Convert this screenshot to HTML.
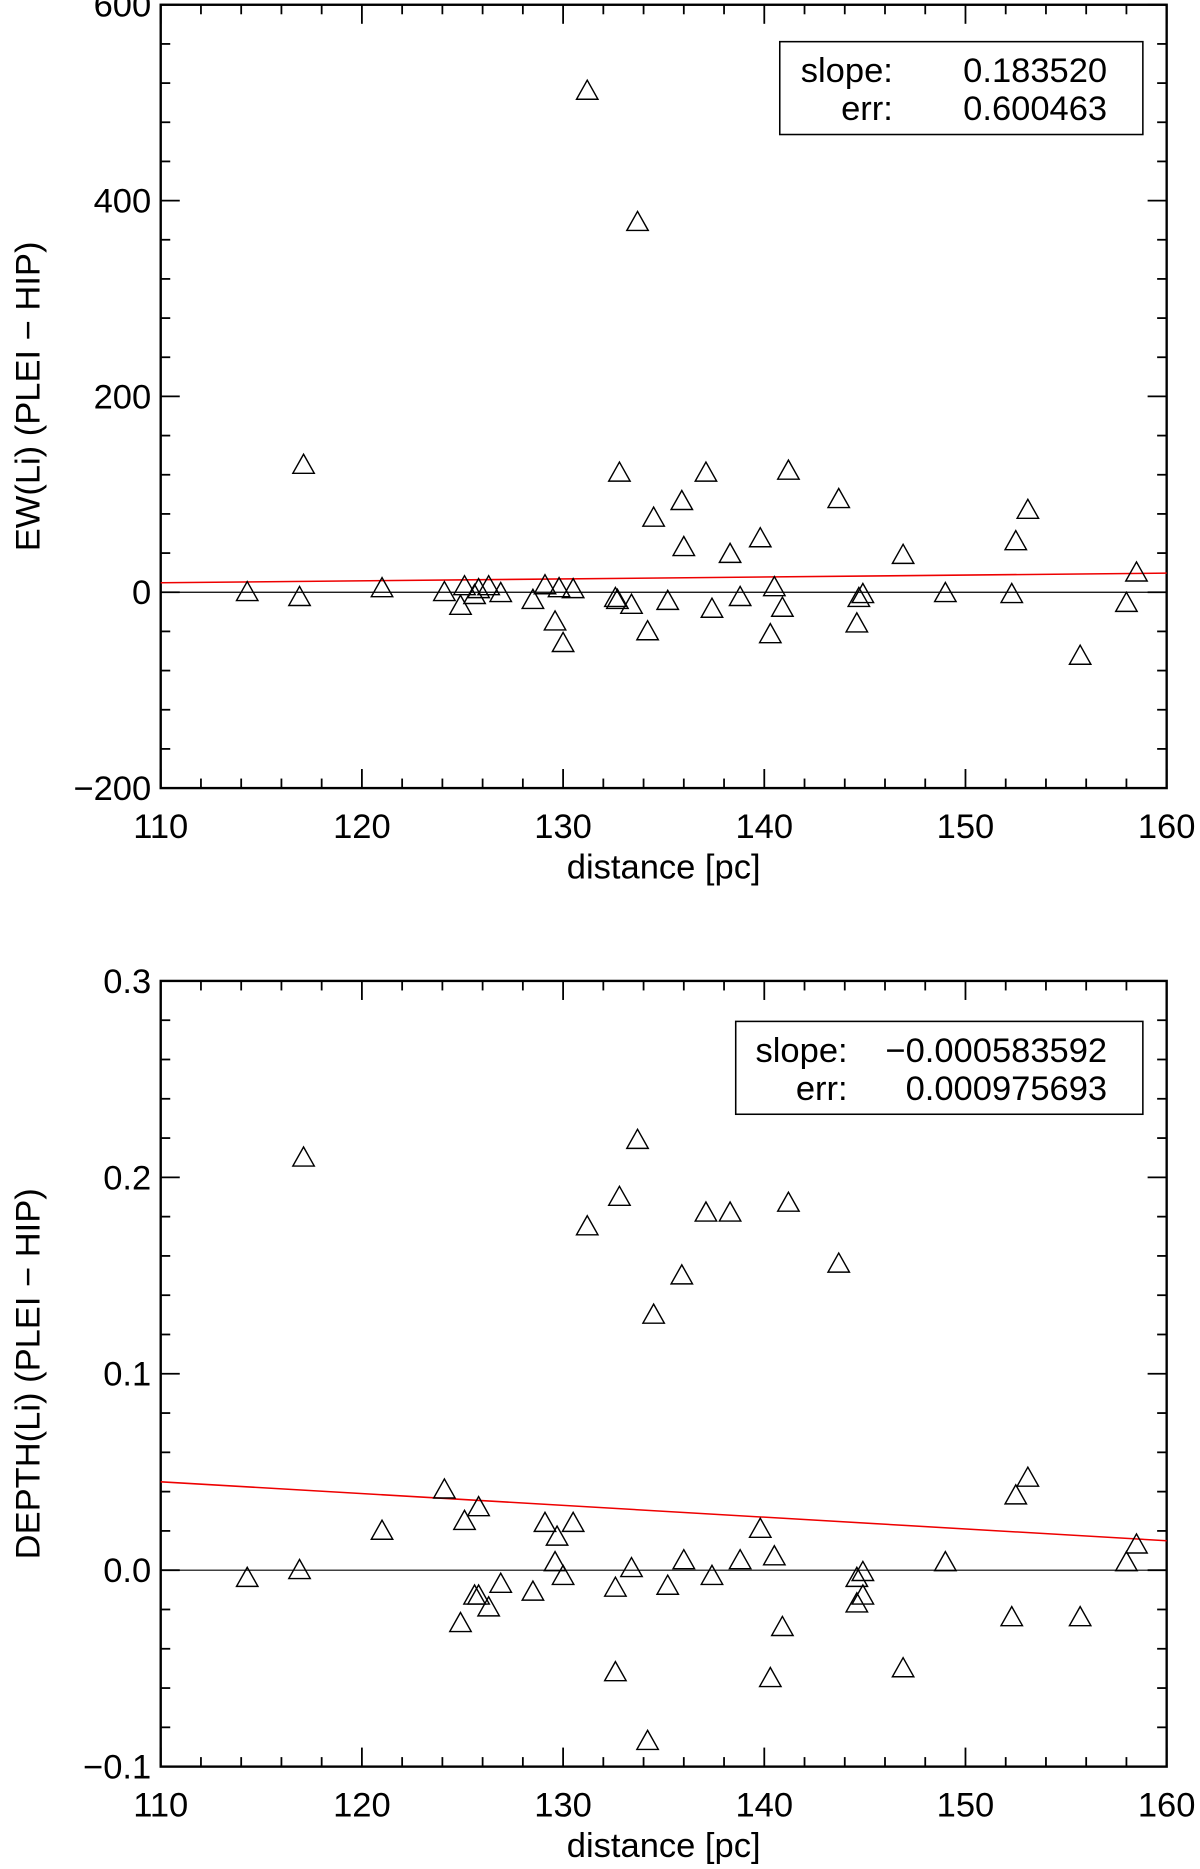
<!DOCTYPE html>
<html><head><meta charset="utf-8"><style>
body{margin:0;background:#fff}
svg{display:block;font-family:"Liberation Sans",sans-serif}
</style></head><body>
<svg id="s" width="1200" height="1869" viewBox="0 0 1008 1570" preserveAspectRatio="none" xmlns="http://www.w3.org/2000/svg"></svg>
<script>
const distances=[114.3,116.9,117.1,121.0,124.1,124.9,125.1,125.6,125.8,126.3,126.9,128.5,129.1,129.6,129.8,130.0,130.5,131.2,132.6,132.8,132.7,133.4,133.7,134.2,134.5,135.2,135.9,136.0,137.1,137.4,138.3,138.8,139.8,140.3,140.5,140.9,141.2,143.7,144.6,144.7,144.9,146.9,149.0,152.3,152.5,153.1,155.7,158.0,158.5];
const ewDiff=[0,-5,130,4,0,-14,6,-3,3,6,-1,-8,7,-30,4,-52,3,512,-6,122,-8,-13,378,-40,76,-9,93,46,122,-17,39,-5,55,-43,5,-16,124,95,-32,-6,-2,38,-1,-2,52,84,-65,-11,20];
const depthDist=[114.3,116.9,117.1,121.0,124.1,124.9,125.1,125.6,125.8,125.8,126.3,126.9,128.5,129.1,129.6,129.7,130.0,130.5,131.2,132.6,132.6,132.8,133.4,133.7,134.2,134.5,135.2,135.9,136.0,137.1,137.4,138.3,138.8,139.8,140.3,140.5,140.9,141.2,143.7,144.6,144.6,144.9,144.9,146.9,149.0,152.3,152.5,153.1,155.7,158.0,158.5];
const depthDiff=[-0.004,0.0,0.210,0.020,0.041,-0.027,0.025,-0.013,0.032,-0.013,-0.019,-0.007,-0.011,0.024,0.004,0.017,-0.003,0.024,0.175,-0.009,-0.052,0.190,0.001,0.219,-0.087,0.130,-0.008,0.150,0.005,0.182,-0.003,0.182,0.005,0.021,-0.055,0.007,-0.029,0.187,0.156,-0.004,-0.017,-0.001,-0.013,-0.050,0.004,-0.024,0.038,0.047,-0.024,0.004,0.013];
const ewFit=[9.7,19.5];
const depthFit=[0.045,0.015];
const xTicks=[110,120,130,140,150,160];
const ewTicks=[-200,0,200,400,600];
const depthTicks=[-0.1,0.0,0.1,0.2,0.3];
const ewLabels=["\u2212200","0","200","400","600"];
const depthLabels=["\u22120.1","0.0","0.1","0.2","0.3"];
const ewBoxLabels=["slope:","err:"];
const ewBoxValues=["0.183520","0.600463"];
const depthBoxLabels=["slope:","err:"];
const depthBoxValues=["\u22120.000583592","0.000975693"];

const svg=document.getElementById('s');const NS='http://www.w3.org/2000/svg';
function mk(t,a,p){const e=document.createElementNS(NS,t);for(const k in a)e.setAttribute(k,a[k]);(p||svg).appendChild(e);return e;}
function panel(name,top,bot,ymin,ymax,yt,yl,xs,ys,fit,bl,bv,bx,by,bw,lblEnd,yTitle){
  const L=135,R=980,FS=29;
  const g=mk('g',{});
  const X=v=>L+(v-110)/50*(R-L), Y=v=>bot-(v-ymin)/(ymax-ymin)*(bot-top);
  mk('rect',{x:L,y:top,width:R-L,height:bot-top,fill:'none',stroke:'#000','stroke-width':2},g);
  for(let v=110;v<=160.01;v+=2){const maj=Math.abs(v%10)<0.01;const l=maj?16:8;
    mk('line',{x1:X(v),x2:X(v),y1:bot,y2:bot-l,stroke:'#000','stroke-width':1.5},g);
    mk('line',{x1:X(v),x2:X(v),y1:top,y2:top+l,stroke:'#000','stroke-width':1.5},g);}
  const st=(ymax-ymin)/20;
  for(let i=0;i<=20;i++){const v=ymin+i*st;const maj=i%5==0;const l=maj?16:8;
    mk('line',{x1:L,x2:L+l,y1:Y(v),y2:Y(v),stroke:'#000','stroke-width':1.5},g);
    mk('line',{x1:R,x2:R-l,y1:Y(v),y2:Y(v),stroke:'#000','stroke-width':1.5},g);}
  xTicks.forEach(v=>{const t=mk('text',{x:X(v),y:bot+42,'font-size':FS,'text-anchor':'middle'},g);t.textContent=v;});
  yt.forEach((v,i)=>{const t=mk('text',{x:L-8,y:Y(v)+10,'font-size':FS,'text-anchor':'end'},g);t.textContent=yl[i];});
  const xt=mk('text',{x:(L+R)/2,y:bot+76,'font-size':FS,'text-anchor':'middle'},g);xt.textContent='distance [pc]';
  
  const ytt=mk('text',{x:0,y:0,'font-size':FS,'text-anchor':'middle',transform:`translate(33,${(top+bot)/2}) rotate(-90)`},g);ytt.textContent=yTitle;
  
  mk('line',{x1:L,x2:R,y1:Y(0),y2:Y(0),stroke:'#000','stroke-width':1},g);
  const fl=mk('line',{x1:L,x2:R,y1:Y(fit[0]),y2:Y(fit[1]),stroke:'#e00','stroke-width':1.3},g);
  
  xs.forEach((d,i)=>{const cx=X(d),cy=Y(ys[i]);
    const p=mk('polygon',{points:`${cx-9},${cy+7} ${cx+9},${cy+7} ${cx},${cy-9}`,fill:'none',stroke:'#000','stroke-width':1.2},g);
    });
  const b=mk('rect',{x:bx,y:by,width:bw,height:78,fill:'#fff',stroke:'#000','stroke-width':1.3},g);
  
  bl.forEach((s,i)=>{const t=mk('text',{x:bx+lblEnd,y:by+34+i*32,'font-size':FS,'text-anchor':'end'},g);t.textContent=s;
    const v=mk('text',{x:bx+bw-30,y:by+34+i*32,'font-size':FS,'text-anchor':'end'},g);v.textContent=bv[i];});
}
panel('ew-panel',4,662,-200,600,ewTicks,ewLabels,distances,ewDiff,ewFit,ewBoxLabels,ewBoxValues,655,35,305,95,'EW(Li) (PLEI \u2212 HIP)');
panel('depth-panel',824,1484,-0.1,0.3,depthTicks,depthLabels,depthDist,depthDiff,depthFit,depthBoxLabels,depthBoxValues,618,858,342,94,'DEPTH(Li) (PLEI \u2212 HIP)');
</script>
</body></html>
